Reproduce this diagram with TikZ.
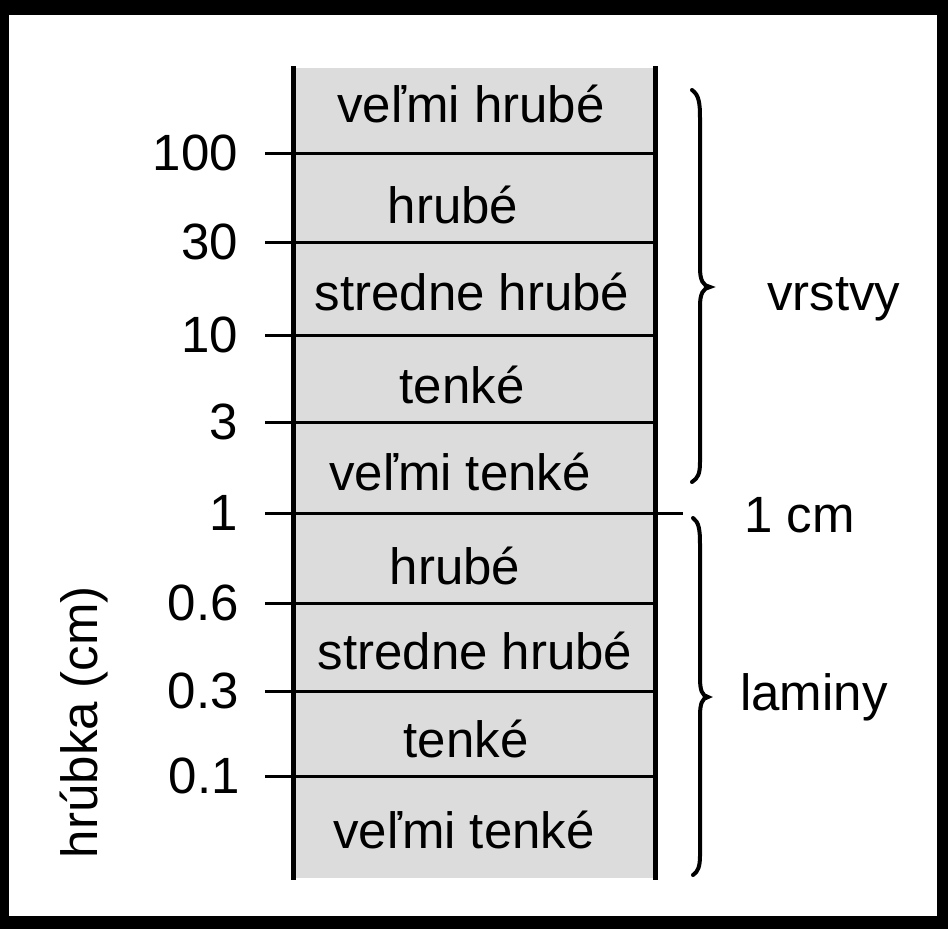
\documentclass[tikz,border=0pt]{standalone}
\usepackage{fontspec}
\setmainfont{Liberation Sans}
\begin{document}
\begin{tikzpicture}[x=1pt,y=-1pt,
  lbl/.style={font=\fontsize{51}{60}\selectfont, inner sep=0pt, anchor=base},
  num/.style={font=\fontsize{51}{60}\selectfont, inner sep=0pt, anchor=east},
  vline/.style={line width=5pt},
  hline/.style={line width=3pt},
  bracestyle/.style={line width=4pt, line cap=round}]
% frame
\fill[black] (0,0) rectangle (948,929);
\fill[white] (9,15) rectangle (937,916);
\useasboundingbox (0,0) rectangle (948,929);
% column
\fill[fill={rgb,255:red,220;green,220;blue,220}] (293,68) rectangle (655,878);
% horizontal lines with ticks
\foreach \yy in {153,242,335,422,603,691,776}{
  \draw[hline] (265,\yy) -- (655,\yy);
}
\draw[hline] (265,513) -- (683,513);
\draw[vline] (293,66) -- (293,880);
\draw[vline] (655,66) -- (655,880);
% scale numbers
\node[num] (n100) at (238,153) {100};
\node[num] (n30) at (238,242) {30};
\node[num] (n10) at (238,335) {10};
\node[num] (n3) at (238,422) {3};
\node[num] (n1) at (238,513) {1};
\node[num] (n06) at (239,603) {0.6};
\node[num] (n03) at (239,691) {0.3};
\node[num] (n01) at (240,776) {0.1};
% row texts
\node[lbl] (r1) at (471,122) {veľmi hrubé};
\node[lbl] (r2) at (453,223) {hrubé};
\node[lbl] (r3) at (472,310) {stredne hrubé};
\node[lbl] (r4) at (462,403) {tenké};
\node[lbl] (r5) at (460,490) {veľmi tenké};
\node[lbl] (r6) at (455,584) {hrubé};
\node[lbl] (r7) at (475,669) {stredne hrubé};
\node[lbl] (r8) at (466,757) {tenké};
\node[lbl] (r9) at (464,848) {veľmi tenké};
% braces
\draw[bracestyle] (692,90) .. controls (699,95) and (700,103) .. (700,118) -- (700,268)
  .. controls (700,280) and (703,286) .. (710,287)
  .. controls (703,288) and (700,294) .. (700,306) -- (700,462)
  .. controls (700,474) and (698,478) .. (692,482);
\draw[bracestyle] (693,518) .. controls (699,522) and (700,530) .. (700,544) -- (700,678)
  .. controls (700,690) and (702,696) .. (708,697)
  .. controls (702,698) and (700,704) .. (700,716) -- (700,856)
  .. controls (700,866) and (698,872) .. (693,875);
% right labels
\node[lbl, anchor=base west] (vrstvy) at (767,310) {vrstvy};
\node[lbl, anchor=base west] (cm) at (744,532) {1 cm};
\node[lbl, anchor=base west] (laminy) at (740,710) {laminy};
% axis label
\node[lbl, rotate=90] (axis) at (97,722) {hrúbka (cm)};
\end{tikzpicture}
\end{document}
